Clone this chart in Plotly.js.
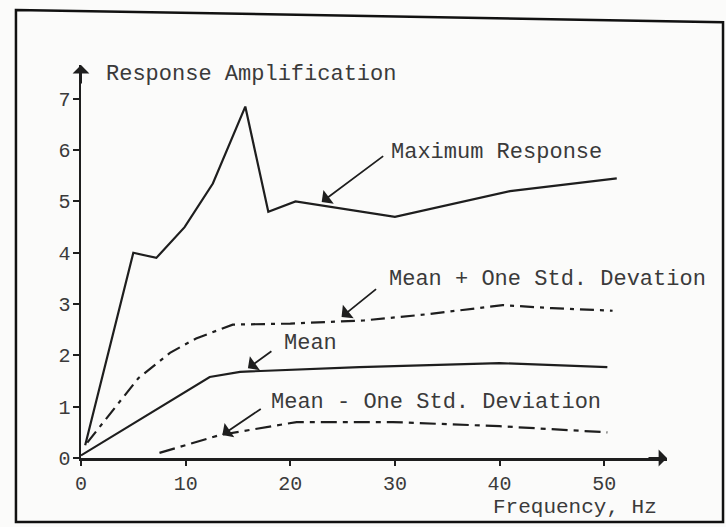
<!DOCTYPE html>
<html>
<head>
<meta charset="utf-8">
<script src="https://cdn.plot.ly/plotly-3.0.1.min.js"></script>
<style>html,body{margin:0;padding:0;background:#fbfbfa;}#chart{width:726px;height:527px;}</style>
</head>
<body>
<div id="chart"></div>
<script>
// Maximum response
var maxX = [0.4, 5.0, 7.2, 9.9, 12.6, 15.7, 17.9, 20.5, 30.0, 41.0, 51.2];
var maxY = [0.25, 4.0, 3.9, 4.5, 5.35, 6.85, 4.8, 5.0, 4.7, 5.2, 5.45];
// Mean + one std. deviation
var plusX = [0.6, 5.5, 8.5, 11, 14.5, 20, 27, 33, 40.3, 45, 50.8];
var plusY = [0.3, 1.56, 2.05, 2.33, 2.6, 2.62, 2.68, 2.8, 2.98, 2.92, 2.87];
// Mean
var meanX = [0, 12.3, 15.2, 26.6, 40, 50.3];
var meanY = [0.05, 1.58, 1.68, 1.77, 1.85, 1.77];
// Mean - one std. deviation
var minusX = [7.5, 13.3, 20.6, 29.8, 40, 50.3];
var minusY = [0.1, 0.45, 0.7, 0.7, 0.62, 0.5];

var xTicks = [0, 10, 20, 30, 40, 50];
var yTicks = [0, 1, 2, 3, 4, 5, 6, 7];

var ink = '#1e1e1e';
var txt = '#3a3a3a';
var mono = 'Liberation Mono, Courier New, monospace';

var traces = [
  {x: maxX, y: maxY, mode: 'lines', line: {color: ink, width: 2.2}},
  {x: plusX, y: plusY, mode: 'lines', line: {color: ink, width: 2.2, dash: '14px,6px,4px,6px'}},
  {x: meanX, y: meanY, mode: 'lines', line: {color: ink, width: 2.2}},
  {x: minusX, y: minusY, mode: 'lines', line: {color: ink, width: 2.2, dash: '16px,6px,5px,6px'}}
];

function label(t, x, y, size) {
  return {text: t, x: x, y: y, xref: 'x', yref: 'y', xanchor: 'left', yanchor: 'middle',
    showarrow: false, font: {family: mono, size: size || 22, color: txt}};
}
function arrow(x, y, ax, ay) {
  return {text: '', x: x, y: y, xref: 'x', yref: 'y', ax: ax, ay: ay, showarrow: true,
    arrowhead: 1, arrowsize: 1.6, arrowwidth: 1.8, arrowcolor: ink};
}

var layout = {
  width: 726, height: 527,
  margin: {l: 81, r: 59, t: 65, b: 69},
  paper_bgcolor: '#fbfbfa', plot_bgcolor: 'rgba(0,0,0,0)',
  showlegend: false,
  xaxis: {range: [0, 56], tickvals: xTicks, ticktext: xTicks.map(String), showgrid: false, zeroline: false,
    showline: true, linecolor: ink, linewidth: 2.5, ticks: 'outside', ticklen: 5, tickwidth: 2, tickcolor: ink,
    tickfont: {family: mono, size: 20, color: txt}},
  yaxis: {range: [0, 7.66], tickvals: yTicks, ticktext: yTicks.map(String), showgrid: false, zeroline: false,
    showline: true, linecolor: ink, linewidth: 2.5, ticks: 'outside', ticklen: 6, tickwidth: 2, tickcolor: ink,
    tickfont: {family: mono, size: 20, color: txt}, ticklabelstandoff: -2},
  shapes: [
    {type: 'path', xref: 'paper', yref: 'paper', path: 'M -0.111 1.14 L 1.0956 1.109 L 1.0956 -0.163 L -0.111 -0.163 Z',
      line: {color: '#111', width: 2.5}}
  ],
  annotations: [
    label('Response Amplification', 2.2, 7.47),
    label('Maximum Response', 29.4, 5.96),
    label('Mean + One Std. Devation', 29.2, 3.47),
    label('Mean', 19.2, 2.24),
    label('Mean - One Std. Deviation', 17.95, 1.09),
    {text: 'Frequency, Hz', x: 0.7, y: -0.127, xref: 'paper', yref: 'paper', xanchor: 'left', yanchor: 'middle',
      showarrow: false, font: {family: mono, size: 21, color: txt}},
    arrow(23.0, 4.99, 63, -47),
    arrow(24.9, 2.75, 36, -29),
    arrow(15.95, 1.75, 25, -18),
    arrow(13.5, 0.45, 40, -27),
    {text: '', x: 56, y: 0, xref: 'x', yref: 'y', ax: -20, ay: 0, showarrow: true, arrowhead: 1, arrowsize: 1.4, arrowwidth: 2, arrowcolor: ink},
    {text: '', x: 0, y: 7.66, xref: 'x', yref: 'y', ax: 0, ay: 20, showarrow: true, arrowhead: 1, arrowsize: 1.4, arrowwidth: 2, arrowcolor: ink}
  ]
};

Plotly.newPlot('chart', traces, layout, {displayModeBar: false, staticPlot: true});
</script>
</body>
</html>
